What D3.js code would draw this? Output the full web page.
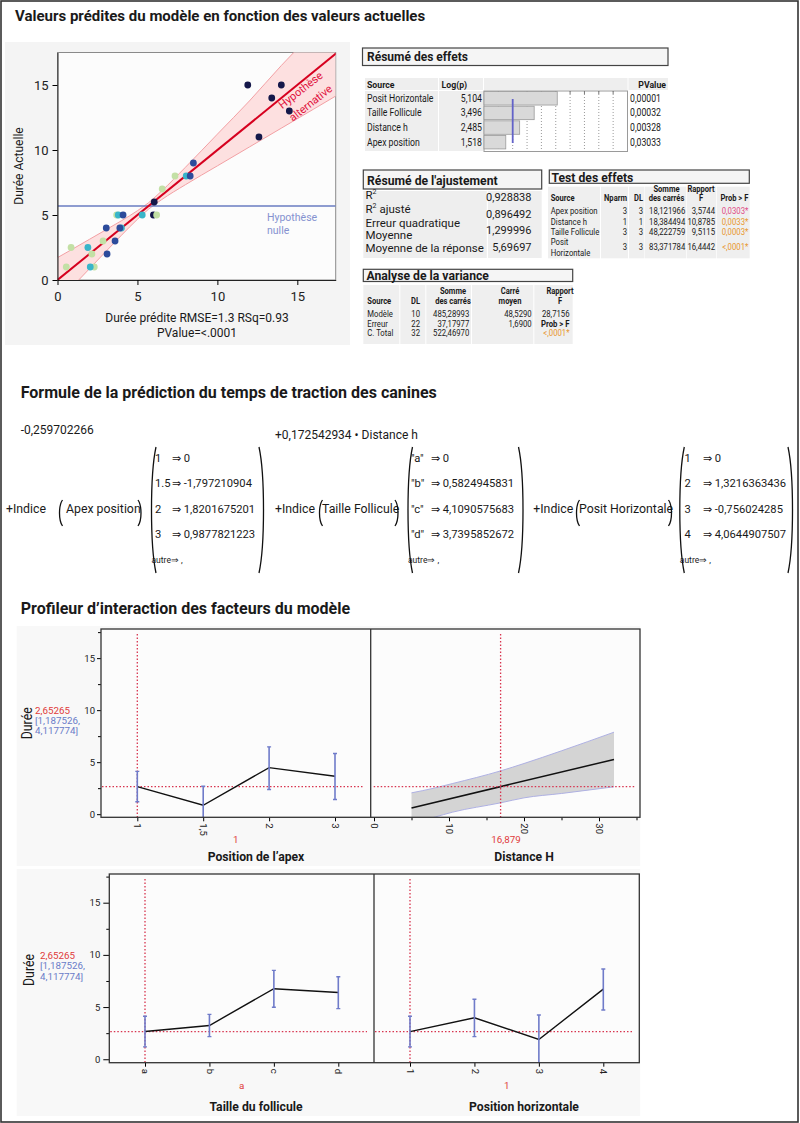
<!DOCTYPE html>
<html><head><meta charset="utf-8">
<script src="https://cdn.jsdelivr.net/npm/d3@7"></script>
<style>
body{margin:0;background:#fff}
svg{display:block}
text{font-family:Roboto,"Liberation Sans",Arial,sans-serif}
</style>
</head><body>
<svg id="c" width="800" height="1123"></svg>
<script>
// ---------------- DATA ----------------
const titleMain = "Valeurs prédites du modèle en fonction des valeurs actuelles";
const titleFormula = "Formule de la prédiction du temps de traction des canines";
const titleProfiler = "Profileur d’interaction des facteurs du modèle";

// leverage plot (predicted vs actual), grouped by colour
const navyPred = [11.9, 14.0, 13.4, 14.5, 12.6, 6.05, 6.0];
const navyAct  = [15, 15, 14, 13, 11, 6, 5];
const greenPred = [7.35, 6.55, 6.2, 3.7, 2.85, 2.15, 0.85, 0.55, 2.3];
const greenAct  = [8, 7, 5, 5, 3, 2, 2.5, 1, 1];
const cyanPred = [8.05, 5.3, 3.8, 4.0, 1.9, 2.05];
const cyanAct  = [8, 5, 5, 4, 2.5, 1];
const bluePred = [8.5, 8.3, 4.1, 3.05, 3.9, 3.6, 3.1];
const blueAct  = [9, 8, 5, 4, 4, 3, 2];
const fitX = [0, 17.45];
const fitY = [0, 17.45];
const levBandX    = [0, 1, 2, 3, 4, 5, 5.7, 6.5, 8, 10, 12, 14, 16, 17.4];
const levBandHigh = [1.72, 2.42, 3.13, 3.84, 4.56, 5.33, 5.95, 6.83, 8.67, 11.22, 13.77, 16.5, 19.05, 20.8];
const levBandLow  = [-1.72, -0.42, 0.87, 2.16, 3.44, 4.67, 5.45, 6.17, 7.33, 8.78, 10.23, 11.68, 13.13, 14.15];
const meanResponse = 5.69697;
const levTicks = [0, 5, 10, 15];

// Résumé des effets
const effectSources = ["Posit Horizontale", "Taille Follicule", "Distance h", "Apex position"];
const effectLogP = [5.104, 3.496, 2.485, 1.518];
const effectLogPText = ["5,104", "3,496", "2,485", "1,518"];
const effectPValue = ["0,00001", "0,00032", "0,00328", "0,03033"];

// Résumé de l'ajustement
const fitLabels = ["R²", "R² ajusté", "Erreur quadratique", "Moyenne", "Moyenne de la réponse"];
const fitValues = ["0,928838", "0,896492", "1,299996", "5,69697"];

// Test des effets
const testSources = ["Apex position", "Distance h", "Taille Follicule", "Posit Horizontale"];
const testNparm = ["3", "1", "3", "3"];
const testDL = ["3", "1", "3", "3"];
const testSS = ["18,121966", "18,384494", "48,222759", "83,371784"];
const testF = ["3,5744", "10,8785", "9,5115", "16,4442"];
const testProb = ["0,0303*", "0,0033*", "0,0003*", "<,0001*"];

// Analyse de la variance
const anovaSources = ["Modèle", "Erreur", "C. Total"];
const anovaDL = ["10", "22", "32"];
const anovaSS = ["485,28993", "37,17977", "522,46970"];
const anovaMS = ["48,5290", "1,6900", ""];
const anovaF = ["28,7156", "Prob > F", "<,0001*"];

// Formule
const formulaIntercept = "-0,259702266";
const formulaDistance = "+0,172542934 • Distance h";
const apexKeys = ["1", "1.5", "2", "3"];
const apexCoefs = ["0", "-1,797210904", "1,8201675201", "0,9877821223"];
const follKeys = ["\"a\"", "\"b\"", "\"c\"", "\"d\""];
const follCoefs = ["0", "0,5824945831", "4,1090575683", "3,7395852672"];
const horizKeys = ["1", "2", "3", "4"];
const horizCoefs = ["0", "1,3216363436", "-0,756024285", "4,0644907507"];

// Profileur
const profPredCurrent = "2,65265";
const profCI = ["[1,187526,", "4,117774]"];
const profYTicks = [0, 5, 10, 15];
const profYMinor = [2.5, 7.5, 12.5, 17.5];
const profCurrentY = 2.65265;
const apexLevels = ["1", "1,5", "2", "3"];
const apexPred = [2.65265, 0.85544, 4.47282, 3.64043];
const apexLow  = [1.187526, -0.9, 2.37, 1.41];
const apexHigh = [4.117774, 2.68, 6.47, 5.83];
const distLineX = [5, 32];
const distLineY = [0.60, 5.26];
const distBandX    = [5, 8, 10.5, 16.879, 20, 25, 32];
const distBandHigh = [2.05, 2.5, 2.95, 4.16, 4.87, 6.09, 7.88];
const distBandLow  = [-0.85, -0.3, 0.2, 1.09, 1.57, 1.99, 2.63];
const distTicks = [0, 10, 20, 30];
const distMinor = [5, 15, 25, 35];
const distCurrent = 16.879;
const follLevels = ["a", "b", "c", "d"];
const follPred = [2.65265, 3.23514, 6.76171, 6.39224];
const follLow  = [1.187526, 2.17, 4.98, 4.85];
const follHigh = [4.117774, 4.3, 8.52, 7.91];
const horizLevels = ["1", "2", "3", "4"];
const horizPred = [2.65265, 3.97429, 1.89663, 6.71714];
const horizLow  = [1.187526, 2.17, -0.5, 4.72];
const horizHigh = [4.117774, 5.75, 4.24, 8.65];
const profCurLabels = ["1", "16,879", "a", "1"];
const profTitles = ["Position de l’apex", "Distance H", "Taille du follicule", "Position horizontale"];

// ---------------- HELPERS ----------------
const svg = d3.select('#c');
const defs = svg.append('defs');
function T(g, x, y, s, o = {}) {
  let tr = `translate(${x},${y})`;
  if (o.rot) tr += ` rotate(${o.rot})`;
  if (o.sx) tr += ` scale(${o.sx},1)`;
  return g.append('text').attr('transform', tr)
    .attr('font-size', o.size || 11)
    .attr('fill', o.fill || '#1a1a1a')
    .attr('text-anchor', o.anchor || 'start')
    .attr('font-weight', o.weight || 'normal')
    .text(s);
}
function R(g, x, y, w, h, fill, stroke, sw) {
  const r = g.append('rect').attr('x', x).attr('y', y).attr('width', w).attr('height', h).attr('fill', fill || 'none');
  if (stroke) r.attr('stroke', stroke).attr('stroke-width', sw || 1);
  return r;
}
function clip(id, x, y, w, h) {
  defs.append('clipPath').attr('id', id).append('rect').attr('x', x).attr('y', y).attr('width', w).attr('height', h);
}
const RED = '#e0103c', ORANGE = '#e8962e', PINK = '#e04a86';

// page frame
R(svg, 1, 1, 797, 1121, 'none', '#333', 1.6);

// ---------------- LEVERAGE PLOT ----------------
T(svg, 15, 20.5, titleMain, {size: 15, weight: 'bold'});
const gS = svg.append('g');
R(gS, 5, 42, 345, 303, '#f4f4f4');
const lx = d3.scaleLinear().domain([0, 17.4]).range([57.5, 335.7]);
const ly = d3.scaleLinear().domain([0, 17.5]).range([280, 52.5]);
R(gS, 57.5, 52.5, 278.2, 227.5, '#fcfcfc', '#8a8a8a', 1);
clip('clipLev', 57.5, 52.5, 278.2, 227.5);
const gL = gS.append('g').attr('clip-path', 'url(#clipLev)');
const levBand = levBandX.map((x, i) => ({x, lo: levBandLow[i], hi: levBandHigh[i]}));
gL.append('path').datum(levBand)
  .attr('d', d3.area().x(d => lx(d.x)).y0(d => ly(d.lo)).y1(d => ly(d.hi)).curve(d3.curveMonotoneX))
  .attr('fill', '#fde0e0');
['lo', 'hi'].forEach(k => gL.append('path').datum(levBand)
  .attr('d', d3.line().x(d => lx(d.x)).y(d => ly(d[k])).curve(d3.curveMonotoneX))
  .attr('fill', 'none').attr('stroke', '#f2a0a4').attr('stroke-width', 1));
gL.append('line').attr('x1', lx(0)).attr('x2', lx(17.4)).attr('y1', ly(meanResponse)).attr('y2', ly(meanResponse))
  .attr('stroke', '#6a7cc2').attr('stroke-width', 1.6);
gL.append('path').datum(fitX.map((x, i) => [x, fitY[i]]))
  .attr('d', d3.line().x(d => lx(d[0])).y(d => ly(d[1])))
  .attr('stroke', '#d6001f').attr('stroke-width', 2).attr('fill', 'none');
const groups = [[navyPred, navyAct, '#15184a'], [greenPred, greenAct, '#c3e0a5'], [cyanPred, cyanAct, '#39b5c9'], [bluePred, blueAct, '#2c4b9b']];
groups.forEach(([p, a, c]) => {
  gL.selectAll(null).data(p.map((v, i) => [v, a[i]])).enter().append('circle')
    .attr('cx', d => lx(d[0])).attr('cy', d => ly(d[1])).attr('r', 3.4).attr('fill', c);
});
const axB = gS.append('g').attr('transform', 'translate(0,280)')
  .call(d3.axisBottom(lx).tickValues(levTicks).tickSize(5).tickSizeOuter(0).tickPadding(7));
const axL = gS.append('g').attr('transform', 'translate(57.5,0)')
  .call(d3.axisLeft(ly).tickValues(levTicks).tickSize(5).tickSizeOuter(0).tickPadding(4));
[axB, axL].forEach(a => { a.attr('font-size', 13); a.selectAll('text').attr('fill', '#222'); a.select('.domain').attr('stroke', '#222'); });
T(gS, 23, 166, 'Durée Actuelle', {size: 12, rot: -90, anchor: 'middle'});
T(gS, 197, 321.5, 'Durée prédite RMSE=1.3 RSq=0.93', {size: 12, anchor: 'middle'});
T(gS, 197, 336.5, 'PValue=<.0001', {size: 12, anchor: 'middle'});
T(gS, 303, 93, 'Hypothèse', {size: 11, rot: -38, anchor: 'middle', fill: RED});
T(gS, 313, 106, 'alternative', {size: 11, rot: -38, anchor: 'middle', fill: RED});
T(gS, 267, 221, 'Hypothèse', {size: 10.5, fill: '#8592d0'});
T(gS, 267, 234, 'nulle', {size: 10.5, fill: '#8592d0'});

// ---------------- RESUME DES EFFETS ----------------
const gE = svg.append('g');
R(gE, 362.5, 48, 305.5, 17.5, '#f5f5f5', '#444', 1.2);
T(gE, 367, 61, 'Résumé des effets', {size: 12, weight: 'bold'});
const ex = d3.scaleLinear().domain([0, 10]).range([484, 627.5]);
const ey = d3.scaleBand().domain(effectSources).range([91, 149.5]).paddingInner(0.08).paddingOuter(0.04);
R(gE, 365, 78, 73, 12, '#eeeeee'); R(gE, 439, 78, 44, 12, '#eeeeee');
R(gE, 484, 78, 143.5, 12, '#eeeeee'); R(gE, 628.5, 78, 39.5, 12, '#eeeeee');
R(gE, 365, 91, 73, 60, '#eeeeee'); R(gE, 439, 91, 44, 60, '#eeeeee');
R(gE, 484, 91, 143.5, 60.5, '#ffffff', '#9a9a9a', 1);
T(gE, 367, 87.5, 'Source', {size: 9.5, weight: 'bold', sx: 0.92});
T(gE, 441.5, 87.5, 'Log(p)', {size: 9.5, weight: 'bold', sx: 0.92});
T(gE, 666, 87.5, 'PValue', {size: 9.5, weight: 'bold', sx: 0.92, anchor: 'end'});
d3.range(1, 10).forEach(v => {
  gE.append('line').attr('x1', ex(v)).attr('x2', ex(v)).attr('y1', 91).attr('y2', 151)
    .attr('stroke', '#9a9a9a').attr('stroke-dasharray', '1,2');
  gE.append('line').attr('x1', ex(v)).attr('x2', ex(v)).attr('y1', 91).attr('y2', 94).attr('stroke', '#777');
});
gE.selectAll(null).data(effectSources).enter().append('rect')
  .attr('x', ex(0)).attr('y', d => ey(d)).attr('height', ey.bandwidth())
  .attr('width', (d, i) => ex(effectLogP[i]) - ex(0))
  .attr('fill', '#d9d9d9').attr('stroke', '#9a9a9a').attr('stroke-width', 0.8);
gE.append('line').attr('x1', ex(2)).attr('x2', ex(2)).attr('y1', 99).attr('y2', 143).attr('stroke', '#6262c8').attr('stroke-width', 1.8);
effectSources.forEach((s, i) => {
  const yb = ey(s) + ey.bandwidth() / 2 + 3.5;
  T(gE, 367, yb, s, {size: 10, sx: 0.87});
  T(gE, 482, yb, effectLogPText[i], {size: 10, sx: 0.87, anchor: 'end'});
  T(gE, 630, yb, effectPValue[i], {size: 10, sx: 0.87});
});

// ---------------- RESUME DE L'AJUSTEMENT ----------------
const gA = svg.append('g');
R(gA, 363.3, 170, 178.4, 19, '#f5f5f5', '#444', 1.2);
T(gA, 367, 184.5, "Résumé de l'ajustement", {size: 12.2, weight: 'bold'});
R(gA, 363.3, 191, 123.5, 67, '#eeeeee'); R(gA, 488, 191, 53.7, 67, '#eeeeee');
const fitLabelY = [198.5, 212.5, 226.5, 238.5, 252];
const fitValueY = [201, 217.5, 234, 251];
fitLabels.forEach((s, i) => {
  const t = T(gA, 365.5, fitLabelY[i], '', {size: 11.5});
  if (s.startsWith('R²')) {
    t.append('tspan').text('R');
    t.append('tspan').attr('font-size', 7).attr('dy', -5).text('2');
    t.append('tspan').attr('dy', 5).text(s.slice(2));
  } else t.text(s);
});
fitValues.forEach((v, i) => T(gA, 531.5, fitValueY[i], v, {size: 11, anchor: 'end'}));

// ---------------- TEST DES EFFETS ----------------
const gT = svg.append('g');
R(gT, 549.3, 170, 200, 13.3, '#f5f5f5', '#444', 1.2);
T(gT, 551.5, 181.8, 'Test des effets', {size: 12.2, weight: 'bold'});
[[548, 52], [601, 27], [629, 15.5], [645, 41], [686.7, 29.3], [716.7, 33]].forEach(([x, w]) => R(gT, x, 186.7, w, 71.6, '#efefef'));
const th = {size: 8.6, weight: 'bold', sx: 0.88};
T(gT, 666.5, 191.8, 'Somme', {...th, anchor: 'middle'});
T(gT, 701, 191.8, 'Rapport', {...th, anchor: 'middle'});
T(gT, 550.7, 201.3, 'Source', th);
T(gT, 627, 201.3, 'Nparm', {...th, anchor: 'end'});
T(gT, 643, 201.3, 'DL', {...th, anchor: 'end'});
T(gT, 666.5, 201.3, 'des carrés', {...th, anchor: 'middle'});
T(gT, 701, 201.3, 'F', {...th, anchor: 'middle'});
T(gT, 748.3, 201.3, 'Prob > F', {...th, anchor: 'end'});
const tb = {size: 9, sx: 0.86};
const testRowY = [213.5, 224.5, 235.3, 250];
testSources.forEach((s, i) => {
  const y = testRowY[i];
  if (i === 3) { T(gT, 550.7, 244.8, 'Posit', tb); T(gT, 550.7, 256, 'Horizontale', tb); }
  else T(gT, 550.7, y, s, tb);
  T(gT, 627, y, testNparm[i], {...tb, anchor: 'end'});
  T(gT, 643, y, testDL[i], {...tb, anchor: 'end'});
  T(gT, 685.3, y, testSS[i], {...tb, anchor: 'end'});
  T(gT, 715, y, testF[i], {...tb, anchor: 'end'});
  T(gT, 748.3, y, testProb[i], {...tb, anchor: 'end', fill: i === 0 ? PINK : ORANGE});
});

// ---------------- ANALYSE DE LA VARIANCE ----------------
const gV = svg.append('g');
R(gV, 363.3, 269.3, 209.4, 12.2, '#f5f5f5', '#444', 1.2);
T(gV, 366.5, 280, 'Analyse de la variance', {size: 12.2, weight: 'bold'});
[[363.3, 36], [400.3, 25], [426.3, 44.7], [472, 61.3], [534.3, 38.4]].forEach(([x, w]) => R(gV, x, 285, w, 59, '#efefef'));
T(gV, 453, 293.8, 'Somme', {...th, anchor: 'middle'});
T(gV, 510, 293.8, 'Carré', {...th, anchor: 'middle'});
T(gV, 560, 293.8, 'Rapport', {...th, anchor: 'middle'});
T(gV, 367.3, 303.8, 'Source', th);
T(gV, 420, 303.8, 'DL', {...th, anchor: 'end'});
T(gV, 453, 303.8, 'des carrés', {...th, anchor: 'middle'});
T(gV, 510, 303.8, 'moyen', {...th, anchor: 'middle'});
T(gV, 560, 303.8, 'F', {...th, anchor: 'middle'});
const anovaY = [316.5, 326.5, 336.2];
anovaSources.forEach((s, i) => {
  const y = anovaY[i];
  T(gV, 367.3, y, s, tb);
  T(gV, 420, y, anovaDL[i], {...tb, anchor: 'end'});
  T(gV, 469.3, y, anovaSS[i], {...tb, anchor: 'end'});
  T(gV, 531.7, y, anovaMS[i], {...tb, anchor: 'end'});
  if (i === 1) T(gV, 569.5, y, anovaF[i], {...tb, weight: 'bold', anchor: 'end'});
  else T(gV, 569.5, y, anovaF[i], {...tb, anchor: 'end', fill: i === 2 ? ORANGE : '#1a1a1a'});
});

// ---------------- FORMULE ----------------
const gF = svg.append('g');
T(gF, 20.7, 398.3, titleFormula, {size: 16, weight: 'bold'});
T(gF, 20.7, 434, formulaIntercept, {size: 12});
T(gF, 275, 439.3, formulaDistance, {size: 12});
const rowsY = [462, 487, 512.5, 537.5, 562.5];
function paren(g, x, y0, y1, dir, w) {
  const h = y1 - y0;
  g.append('path').attr('d', `M${x + dir * w},${y0} C${x},${y0 + h * 0.22} ${x},${y1 - h * 0.22} ${x + dir * w},${y1}`)
    .attr('fill', 'none').attr('stroke', '#111').attr('stroke-width', 1.3);
}
function indice(x, name, px0, px1, tx) {
  T(gF, x, 513.3, '+Indice', {size: 12.3});
  paren(gF, px0, 500, 526, 1, 4);
  T(gF, tx, 513.3, name, {size: 12.3});
  paren(gF, px1, 500, 526, -1, 4);
}
function matrix(x0, x1, kx, ax, keys, coefs) {
  paren(gF, x0, 447, 573, 1, 6);
  paren(gF, x1, 447, 573, -1, 6);
  keys.forEach((k, i) => {
    T(gF, kx, rowsY[i], k, {size: 11.2});
    T(gF, ax, rowsY[i], '⇒ ' + coefs[i], {size: 11.2});
  });
  T(gF, x0 + 1.5, rowsY[4], 'autre⇒ ,', {size: 8.5});
}
indice(6, 'Apex position', 58.5, 142, 66);
matrix(150, 265, 155, 172, apexKeys, apexCoefs);
indice(275, 'Taille Follicule', 318.5, 399, 322);
matrix(406.5, 524.5, 411, 431, follKeys, follCoefs);
indice(533.3, 'Posit Horizontale', 575.5, 672.5, 579);
matrix(678.3, 794, 684.5, 703, horizKeys, horizCoefs);

// ---------------- PROFILEUR ----------------
const gP = svg.append('g');
T(gP, 20.7, 614, titleProfiler, {size: 16, weight: 'bold'});
const REDP = '#d8344f', BLUEP = '#6f7bc9';
function profRow(cfg) {
  const {y0, y1, xs, ys, bgY0, bgY1, tickSize, tickPad, dureeX, dureeY, infoX, infoY} = cfg;
  R(gP, 16.7, bgY0, 623.5, bgY1 - bgY0, '#f8f8f8');
  R(gP, xs[0], y0, xs[2] - xs[0], y1 - y0, '#fcfcfc');
  const ax = gP.append('g').attr('transform', `translate(${xs[0]},0)`)
    .call(d3.axisLeft(ys).tickValues(profYTicks).tickSize(tickSize).tickSizeOuter(0).tickPadding(tickPad));
  ax.attr('font-size', 9.5); ax.select('.domain').remove();
  ax.selectAll('text').attr('fill', '#222');
  const am = gP.append('g').attr('transform', `translate(${xs[0]},0)`)
    .call(d3.axisLeft(ys).tickValues(profYMinor).tickSize(3).tickSizeOuter(0).tickFormat(''));
  am.select('.domain').remove();
  T(gP, dureeX, dureeY, 'Durée', {size: 14.5, rot: -90, anchor: 'middle', sx: 0.85});
  T(gP, infoX, infoY[0], profPredCurrent, {size: 9.8, fill: '#e03a3a'});
  T(gP, infoX, infoY[1], profCI[0], {size: 9.8, fill: '#6a7cc8'});
  T(gP, infoX, infoY[2], profCI[1], {size: 9.8, fill: '#6a7cc8'});
}
function frameRow(xs, y0, y1) {
  R(gP, xs[0], y0, xs[2] - xs[0], y1 - y0, 'none', '#333', 1.3);
  gP.append('line').attr('x1', xs[1]).attr('x2', xs[1]).attr('y1', y0).attr('y2', y1).attr('stroke', '#333').attr('stroke-width', 1.3);
}
function hRed(x0, x1, y) {
  gP.append('line').attr('x1', x0).attr('x2', x1).attr('y1', y).attr('y2', y)
    .attr('stroke', REDP).attr('stroke-width', 1.3).attr('stroke-dasharray', '1.5,2');
}
function vRed(x, y0, y1) {
  gP.append('line').attr('x1', x).attr('x2', x).attr('y1', y0).attr('y2', y1)
    .attr('stroke', REDP).attr('stroke-width', 1.3).attr('stroke-dasharray', '1.5,2');
}
function catCell(id, x0, x1, y0, y1, ys, levels, pred, lo, hi, range, curIdx) {
  const xp = d3.scalePoint().domain(levels).range(range);
  clip(id, x0, y0, x1 - x0, y1 - y0);
  hRed(x0 + 1, x1 - 7, ys(profCurrentY));
  vRed(xp(levels[curIdx]), y0 + 5, y1);
  const gc = gP.append('g').attr('clip-path', `url(#${id})`);
  gc.append('path').datum(levels.map((l, i) => [xp(l), ys(pred[i])]))
    .attr('d', d3.line()).attr('fill', 'none').attr('stroke', '#111').attr('stroke-width', 1.4);
  levels.forEach((l, i) => {
    const x = xp(l);
    gc.append('line').attr('x1', x).attr('x2', x).attr('y1', ys(lo[i])).attr('y2', ys(hi[i])).attr('stroke', BLUEP).attr('stroke-width', 1.6);
    [lo[i], hi[i]].forEach(v => gc.append('line').attr('x1', x - 2).attr('x2', x + 2).attr('y1', ys(v)).attr('y2', ys(v)).attr('stroke', BLUEP).attr('stroke-width', 1.4));
  });
  const ax = gP.append('g').attr('transform', `translate(0,${y1})`)
    .call(d3.axisBottom(xp).tickSize(4).tickSizeOuter(0));
  ax.select('.domain').remove();
  ax.attr('font-size', 9.5);
  ax.selectAll('text').attr('fill', '#222').attr('transform', 'rotate(90)').attr('y', 0).attr('x', 6).attr('dy', '0.35em').attr('text-anchor', 'start');
}

// Row 1
const ys1 = d3.scaleLinear().domain([-0.3, 17.8]).range([817.3, 629]);
const xs1 = [101, 370.7, 640];
profRow({y0: 629, y1: 817.3, xs: xs1, ys: ys1, bgY0: 626, bgY1: 866, tickSize: 4, tickPad: 2,
  dureeX: 31.5, dureeY: 723.3, infoX: 35, infoY: [714.3, 724.3, 734.3]});
catCell('cA', xs1[0], xs1[1], 629, 817.3, ys1, apexLevels, apexPred, apexLow, apexHigh, [137.3, 335], 0);
const dx = d3.scaleLinear().domain([0, 35]).range([374, 636.5]);
clip('cB', xs1[1], 629, xs1[2] - xs1[1], 817.3 - 629);
{
  const gb = gP.append('g').attr('clip-path', 'url(#cB)');
  const band = distBandX.map((x, i) => ({x, lo: distBandLow[i], hi: distBandHigh[i]}));
  gb.append('path').datum(band)
    .attr('d', d3.area().x(d => dx(d.x)).y0(d => ys1(d.lo)).y1(d => ys1(d.hi)).curve(d3.curveMonotoneX))
    .attr('fill', '#d4d4d4');
  ['lo', 'hi'].forEach(k => gb.append('path').datum(band)
    .attr('d', d3.line().x(d => dx(d.x)).y(d => ys1(d[k])).curve(d3.curveMonotoneX))
    .attr('fill', 'none').attr('stroke', '#aeb0e2').attr('stroke-width', 1));
  hRed(xs1[1] + 3, xs1[2] - 5, ys1(profCurrentY));
  vRed(dx(distCurrent), 634, 817.3);
  gb.append('path').datum(distLineX.map((x, i) => [dx(x), ys1(distLineY[i])]))
    .attr('d', d3.line()).attr('stroke', '#111').attr('stroke-width', 1.5).attr('fill', 'none');
  const ax = gP.append('g').attr('transform', 'translate(0,817.3)')
    .call(d3.axisBottom(dx).tickValues(distTicks).tickSize(4).tickSizeOuter(0));
  ax.select('.domain').remove();
  ax.attr('font-size', 9.5);
  ax.selectAll('text').attr('fill', '#222').attr('transform', 'rotate(90)').attr('y', 0).attr('x', 6).attr('dy', '0.35em').attr('text-anchor', 'start');
  const am = gP.append('g').attr('transform', 'translate(0,817.3)')
    .call(d3.axisBottom(dx).tickValues(distMinor).tickSize(3).tickFormat(''));
  am.select('.domain').remove();
}
frameRow(xs1, 629, 817.3);
T(gP, 235.8, 842.7, profCurLabels[0], {size: 9.8, anchor: 'middle', fill: '#e03a3a'});
T(gP, 506, 842.7, profCurLabels[1], {size: 9.8, anchor: 'middle', fill: '#e03a3a'});
T(gP, 256, 861, profTitles[0], {size: 12.2, weight: 'bold', anchor: 'middle'});
T(gP, 524, 861, profTitles[1], {size: 12.2, weight: 'bold', anchor: 'middle'});

// Row 2
const ys2 = d3.scaleLinear().domain([-0.33, 17.75]).range([1062.7, 874]);
const xs2 = [109.3, 374, 639.3];
profRow({y0: 874, y1: 1062.7, xs: xs2, ys: ys2, bgY0: 869, bgY1: 1116, tickSize: 6, tickPad: 3,
  dureeX: 33.5, dureeY: 970, infoX: 40, infoY: [959.3, 969.3, 980]});
catCell('cC', xs2[0], xs2[1], 874, 1062.7, ys2, follLevels, follPred, follLow, follHigh, [145, 338.3], 0);
catCell('cD', xs2[1], xs2[2], 874, 1062.7, ys2, horizLevels, horizPred, horizLow, horizHigh, [410, 603.3], 0);
frameRow(xs2, 874, 1062.7);
T(gP, 241.7, 1089.3, profCurLabels[2], {size: 9.8, anchor: 'middle', fill: '#e03a3a'});
T(gP, 506.7, 1089.3, profCurLabels[3], {size: 9.8, anchor: 'middle', fill: '#e03a3a'});
T(gP, 256, 1110.7, profTitles[2], {size: 12.2, weight: 'bold', anchor: 'middle'});
T(gP, 524, 1110.7, profTitles[3], {size: 12.2, weight: 'bold', anchor: 'middle'});
</script>
</body></html>
